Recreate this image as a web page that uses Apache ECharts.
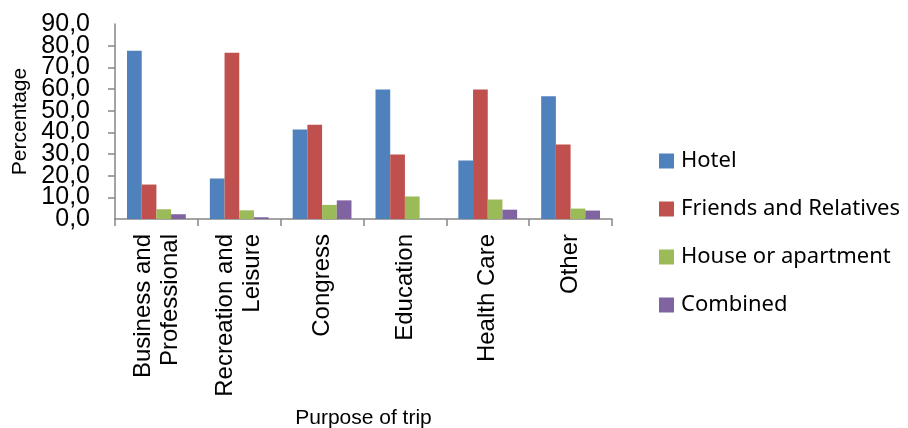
<!DOCTYPE html>
<html>
<head>
<meta charset="utf-8">
<script src="https://cdn.jsdelivr.net/npm/echarts@6/dist/echarts.min.js"></script>
<style>html,body{margin:0;padding:0;background:#fff;}#c{width:908px;height:428px;}</style>
</head>
<body>
<div id="c"></div>
<script>
const categories = ['Business and\nProfessional', 'Recreation and\nLeisure', 'Congress', 'Education', 'Health Care', 'Other'];
const seriesNames = ['Hotel', 'Friends and Relatives', 'House or apartment', 'Combined'];
const hotel = [77.7, 18.7, 41.3, 59.8, 27.0, 56.7];
const friends = [15.9, 76.7, 43.5, 29.8, 59.8, 34.4];
const house = [4.5, 4.0, 6.5, 10.4, 9.0, 4.8];
const combined = [2.2, 0.8, 8.6, 0, 4.3, 3.9];
const colors = ['#4F81BD', '#C0504D', '#9BBB59', '#8064A2'];
const yTicks = { min: 0, max: 90, interval: 10 };

const values = [hotel, friends, house, combined];
const fmt = v => v.toFixed(1).replace('.', ',');
const labelStyle = { margin: 25, fontFamily: 'Liberation Sans', fontSize: 25, color: '#000' };
const chart = echarts.init(document.getElementById('c'), null, { renderer: 'canvas' });
chart.setOption({
  animation: false,
  backgroundColor: '#fff',
  color: colors,
  grid: { left: 115, right: 296, top: 24, bottom: 209, containLabel: false, outerBoundsMode: 'none' },
  legend: {
    orient: 'vertical',
    left: 654,
    top: 145,
    itemWidth: 15,
    itemHeight: 15,
    itemGap: 26,
    icon: 'rect',
    data: seriesNames,
    textStyle: { fontFamily: 'Noto Sans', fontSize: 22, lineHeight: 22, color: '#000', padding: [0, 0, 0, 2] }
  },
  xAxis: {
    type: 'category',
    data: categories,
    name: 'Purpose of trip',
    nameLocation: 'middle',
    nameGap: 189,
    nameMoveOverlap: false,
    nameTextStyle: { fontFamily: 'Liberation Sans', fontSize: 21, color: '#000' },
    axisLine: { lineStyle: { color: '#868686', width: 1.5 } },
    axisTick: { show: true, length: 7, lineStyle: { color: '#868686', width: 1.5 } },
    axisLabel: { rotate: 90, margin: 15, interval: 0, hideOverlap: false, fontFamily: 'Liberation Sans', fontSize: 24, lineHeight: 27, color: '#000' }
  },
  yAxis: [{
    type: 'value',
    position: 'left',
    min: yTicks.min,
    max: yTicks.max,
    interval: yTicks.interval,
    name: 'Percentage',
    nameLocation: 'middle',
    nameGap: 84,
    nameRotate: 90,
    nameMoveOverlap: false,
    nameTextStyle: { fontFamily: 'Liberation Sans', fontSize: 21, color: '#000' },
    splitLine: { show: false },
    axisLine: { show: true, lineStyle: { color: '#868686', width: 1.5 } },
    axisTick: { show: true, length: 7, lineStyle: { color: '#868686', width: 1.5 } },
    axisLabel: Object.assign({ formatter: fmt }, labelStyle)
  }, {
    type: 'value',
    position: 'left',
    offset: 0,
    min: yTicks.min,
    max: yTicks.max,
    interval: yTicks.interval,
    splitLine: { show: false },
    axisLine: { show: false },
    axisTick: { show: false },
    axisLabel: Object.assign({
      showMinLabel: true, showMaxLabel: true,
      formatter: v => (v === yTicks.min || v === yTicks.max) ? fmt(v) : ''
    }, labelStyle)
  }],
  series: seriesNames.map((n, i) => ({
    name: n,
    type: 'bar',
    yAxisIndex: 0,
    data: values[i],
    barGap: '0%',
    barCategoryGap: '29%',
    itemStyle: { color: colors[i] }
  }))
});
</script>
</body>
</html>
